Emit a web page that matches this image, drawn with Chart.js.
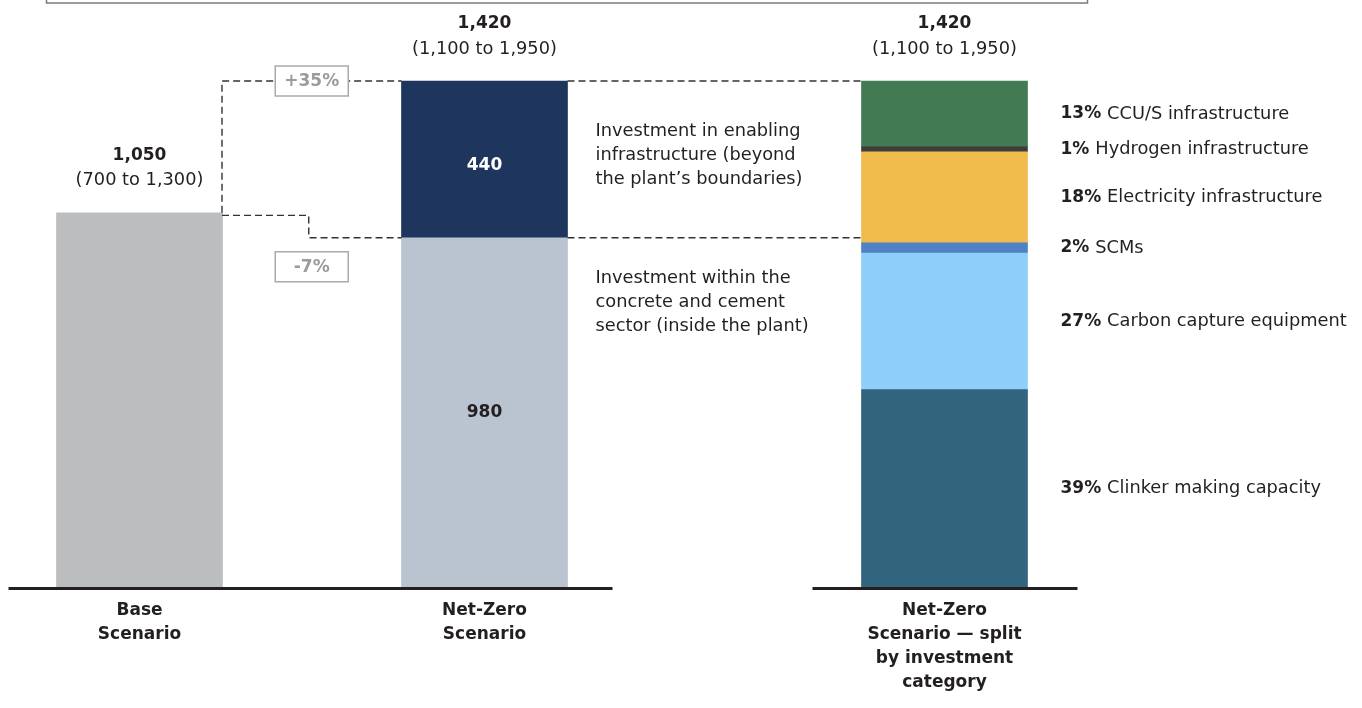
<!DOCTYPE html>
<html>
<head>
<meta charset="utf-8">
<title>Investment needs — Base vs Net-Zero</title>
<script src="https://cdn.jsdelivr.net/npm/chart.js@4.4.0/dist/chart.umd.min.js"></script>
<style>
  html, body { margin: 0; padding: 0; background: #fff; }
  #wrap { width: 1362px; height: 708px; }
</style>
</head>
<body>
<div id="wrap"><canvas id="investChart" width="1362" height="708"></canvas></div>
<script>
// scenario columns
const scenarioLabels = [
    ['Base', 'Scenario'],
    ['Net-Zero', 'Scenario'],
    ['Net-Zero', 'Scenario — split', 'by investment', 'category']
];
const scenarioTotals = ['1,050', '1,420', '1,420'];
const scenarioRanges = ['(700 to 1,300)', '(1,100 to 1,950)', '(1,100 to 1,950)'];

const baseValue = 1050;
// Net-Zero: inside the plant / enabling infrastructure
const netZeroInside = 980;
const netZeroEnabling = 440;
const netZeroNotes = [
    ['Investment within the', 'concrete and cement', 'sector (inside the plant)'],
    ['Investment in enabling', 'infrastructure (beyond', 'the plant’s boundaries)']
];

// split by investment category, bottom to top (share of total, %)
const splitNames = ['Clinker making capacity', 'Carbon capture equipment', 'SCMs',
    'Electricity infrastructure', 'Hydrogen infrastructure', 'CCU/S infrastructure'];
const splitShares = [39, 27, 2, 18, 1, 13];
const splitColors = ['#33647e', '#8dcff9', '#4f81c7', '#f1bb4b', '#3d3d3d', '#417a53'];

const changeLabels = ['+35%', '-7%'];

// column layout: 8 slots, bars sit in slots 0, 3 and 7
const SLOTS = 8;
const slotOf = [0, 3, 7];
const FONT = '"DejaVu Sans", "Noto Sans", sans-serif';
const REG = '17.8px ' + FONT;
const BOLD = 'bold 17px ' + FONT;
const INK = '#231f20';

function slotData(col, value) {
    const arr = new Array(SLOTS).fill(null);
    arr[slotOf[col]] = value;
    return arr;
}

const netZeroTotal = netZeroInside + netZeroEnabling;

const datasets = [
    { label: 'Base', data: slotData(0, baseValue), backgroundColor: '#bcbdbf' },
    { label: 'Inside the plant', data: slotData(1, netZeroInside), backgroundColor: '#bac3d0' },
    { label: 'Enabling infrastructure', data: slotData(1, netZeroEnabling), backgroundColor: '#1e365e' }
];
splitNames.forEach((name, i) => {
    datasets.push({
        label: name,
        data: slotData(2, splitShares[i] * netZeroTotal / 100),
        backgroundColor: splitColors[i]
    });
});

// text + connectors drawn on top of the bars
const annotations = {
    id: 'annotations',
    afterDraw(chart) {
        const ctx = chart.ctx;
        const y = chart.scales.y;
        const bar = (ds, col) => chart.getDatasetMeta(ds).data[slotOf[col]];

        const base = bar(0, 0), nzIn = bar(1, 1), nzEn = bar(2, 1);
        const split = splitNames.map((n, i) => bar(3 + i, 2));
        const cols = [base, nzIn, split[0]];
        const zero = y.getPixelForValue(0);
        const half = base.width / 2;

        ctx.save();

        // frame edge running across the top
        ctx.strokeStyle = '#7a7a7a';
        ctx.lineWidth = 1.5;
        ctx.strokeRect(46.5, -30, 1041, 33);

        // baselines
        ctx.strokeStyle = INK;
        ctx.lineWidth = 3;
        ctx.beginPath();
        ctx.moveTo(base.x - half - 48, zero + 1.5);
        ctx.lineTo(nzIn.x + half + 45, zero + 1.5);
        ctx.moveTo(split[0].x - half - 49, zero + 1.5);
        ctx.lineTo(split[0].x + half + 50, zero + 1.5);
        ctx.stroke();

        // dashed connectors
        const baseTop = y.getPixelForValue(baseValue);
        const insideTop = y.getPixelForValue(netZeroInside);
        const totalTop = y.getPixelForValue(netZeroTotal);
        const bR = base.x + half - 0.5, nL = nzIn.x - half, nR = nzIn.x + half, sL = split[0].x - half;
        const mid = (bR + nL) / 2;
        ctx.strokeStyle = '#333';
        ctx.lineWidth = 1.4;
        ctx.setLineDash([7, 4]);
        ctx.beginPath();
        ctx.moveTo(bR, baseTop);
        ctx.lineTo(bR, totalTop);
        ctx.lineTo(nL, totalTop);
        ctx.moveTo(bR, baseTop + 2.5);
        ctx.lineTo(mid - 3, baseTop + 2.5);
        ctx.lineTo(mid - 3, insideTop);
        ctx.lineTo(nL, insideTop);
        ctx.moveTo(nR, totalTop);
        ctx.lineTo(sL, totalTop);
        ctx.moveTo(nR, insideTop);
        ctx.lineTo(sL, insideTop);
        ctx.stroke();
        ctx.setLineDash([]);

        // change boxes
        const box = (text, cy) => {
            const w = 73, h = 30;
            ctx.fillStyle = '#fff';
            ctx.fillRect(mid - w / 2, cy - h / 2, w, h);
            ctx.strokeStyle = '#aaa';
            ctx.lineWidth = 1.5;
            ctx.strokeRect(mid - w / 2, cy - h / 2, w, h);
            ctx.fillStyle = '#9b9b9b';
            ctx.font = BOLD;
            ctx.textAlign = 'center';
            ctx.textBaseline = 'middle';
            ctx.fillText(text, mid, cy + 1);
        };
        box(changeLabels[0], totalTop);
        box(changeLabels[1], insideTop + 29);

        // totals above bars
        ctx.fillStyle = INK;
        ctx.textAlign = 'center';
        ctx.textBaseline = 'middle';
        const tops = [baseTop, totalTop, totalTop];
        cols.forEach((el, i) => {
            ctx.font = BOLD;
            ctx.fillText(scenarioTotals[i], el.x, tops[i] - 57);
            ctx.font = REG;
            ctx.fillText(scenarioRanges[i], el.x, tops[i] - 32);
        });

        // values inside the Net-Zero bar
        ctx.font = BOLD;
        ctx.fillStyle = '#fff';
        ctx.fillText(String(netZeroEnabling), nzEn.x, (nzEn.y + nzEn.base) / 2 + 6);
        ctx.fillStyle = INK;
        ctx.fillText(String(netZeroInside), nzIn.x, (nzIn.y + nzIn.base) / 2);

        // category labels under the baselines
        ctx.font = BOLD;
        cols.forEach((el, i) => {
            scenarioLabels[i].forEach((line, k) => ctx.fillText(line, el.x, zero + 24 + k * 24));
        });

        // notes beside the Net-Zero bar
        ctx.textAlign = 'left';
        ctx.font = REG;
        const noteX = nR + 28;
        netZeroNotes[1].forEach((line, k) => ctx.fillText(line, noteX, totalTop + 50 + k * 24));
        netZeroNotes[0].forEach((line, k) => ctx.fillText(line, noteX, insideTop + 41 + k * 24));

        // split labels: bold share + category name
        const labelX = split[0].x + half + 33;
        split.forEach((el, i) => {
            const cy = (el.y + el.base) / 2;
            const pct = splitShares[i] + '% ';
            ctx.font = BOLD;
            ctx.fillText(pct, labelX, cy);
            const w = ctx.measureText(pct).width;
            ctx.font = REG;
            ctx.fillText(splitNames[i], labelX + w, cy);
        });

        ctx.restore();
    }
};

new Chart(document.getElementById('investChart'), {
    type: 'bar',
    data: {
        labels: new Array(SLOTS).fill(''),
        datasets: datasets
    },
    options: {
        responsive: false,
        animation: false,
        events: [],
        layout: { padding: { left: 82, right: 360, top: 81, bottom: 121 } },
        datasets: { bar: { barThickness: 166, borderWidth: 0, borderSkipped: false, clip: false } },
        plugins: { legend: { display: false }, tooltip: { enabled: false } },
        scales: {
            x: { stacked: true, display: false },
            y: { stacked: true, display: false, min: 0, max: netZeroTotal }
        }
    },
    plugins: [annotations]
});
</script>
</body>
</html>
